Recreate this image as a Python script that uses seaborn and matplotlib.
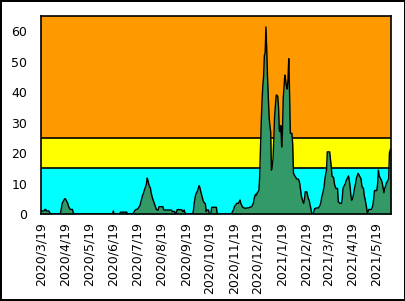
import numpy as np
import pandas as pd
import matplotlib
matplotlib.use("Agg")
import matplotlib.pyplot as plt
import seaborn as sns

start_date = "2020-03-19"

values = (
    [1, 1, 1, 1, 1, 1.5, 1.5, 1, 1, 1, 1, 0.5]
    + [0] * 13
    + [0.5, 2, 3.5, 4, 4.5, 5, 5, 4.5, 4, 3.5, 2.5, 2, 1.5, 1.5, 1.5, 1.5, 0.5]
    + [0] * 50 + [1] + [0] * 8 + [0.6] * 9 + [0] * 8
    + [0.5, 1, 1.3, 1.5, 1.5, 1.7, 2, 2.5, 2.8, 4, 5, 6, 6.6, 7.5, 8.2, 9, 9.8,
       11.8, 11, 9.8, 9, 8.7, 7, 6, 5, 4.3, 3.5, 2.8, 2, 1.4, 1.3, 1.3, 2.4]
    + [2.4, 2.4, 2.4, 2.4, 2.4, 1.4, 1.3, 1.3]
    + [1.3] * 8 + [0.8] * 4 + [0, 0]
    + [1.4, 1.4, 1.5, 1.4, 1.4, 1.4, 1.4, 0.8, 0.8, 1.3, 0.5]
    + [0] * 10
    + [1.5, 3.9, 5.5, 6.6, 7, 7.6, 8.5, 9.3, 8.7, 7.5, 6.5, 5.6, 4.5, 3.9, 3.6,
       3.4, 0.8, 1.3, 1.3, 1.3, 0, 0, 0]
    + [2.2] * 7 + [0] * 19
    + [0.5, 1, 1.5, 2.4, 2.8, 3.2, 3.5, 3.5, 3.5, 4, 4.6, 3.5, 3, 2.4, 2.2, 2,
       1.9, 1.9, 1.9, 2, 2, 2, 2.2, 2.2, 2.4, 2.4, 3, 3.5, 5, 6, 6.5, 6.2, 7,
       7.3, 7.7]
    + [12, 21, 30, 37, 42, 45, 52, 53, 61.4, 54, 45, 38.5, 32, 29, 27, 14.4, 16,
       18, 25, 32, 35.5, 39, 39, 38.6, 35, 27.5, 27, 29, 22, 27, 38, 42, 45.6,
       44, 42, 41, 44, 51, 40, 26.5, 26.5, 26.5, 23, 13.4, 12.8, 12.4, 12, 11.5,
       11.5, 11.5, 11, 10, 8, 6, 5, 4, 3.5, 5, 7.3, 7.3, 7.3, 6, 5, 4.5, 3, 2,
       0.5, 0, 0, 1, 1.8, 1.8, 2, 2, 2, 2, 2.5, 3, 4, 5.7, 6.5, 7.7, 9, 11.7,
       13, 14.4, 20.4, 20.4, 20.4, 20.4, 18, 15.7, 12.4, 12.2, 12, 10, 9, 8.4,
       8.4, 8.4, 4, 3.8, 3.5, 3.5, 3.5, 5, 8.4, 9, 9.5, 10, 11, 11.5, 12, 12.5,
       11, 9, 6, 4.5, 5, 6, 7.5, 9, 10, 11.7, 12.5, 13.3, 13, 12.4, 12, 11.5, 9,
       8.7, 8.4, 6, 5, 3.5, 2, 0, 1, 1.5, 1.5, 1.5, 1.5, 2, 3, 5, 7.7, 7.7, 7.7,
       7.7, 10, 14.4, 12.5, 12, 11.5, 11, 10, 8.5, 7, 8.5, 9, 10, 10.5, 11, 11.5,
       20, 21, 21.6]
)

band_edges = [0, 15, 25, 65]
band_colors = ["#00FFFF", "#FFFF00", "#FF9900"]
y_ticks = [0, 10, 20, 30, 40, 50, 60]
tick_dates = pd.date_range("2020-03-01", "2021-05-01", freq="MS") + pd.Timedelta(days=18)
tick_labels = [f"{d.year}/{d.month}/{d.day}" for d in tick_dates]

dates = pd.date_range(start_date, periods=len(values), freq="D")
df = pd.DataFrame({"date": dates, "value": values})

sns.set_style("white")
plt.rcParams["font.family"] = ["DejaVu Sans"]

fig = plt.figure(figsize=(4.06, 3.01), dpi=100, linewidth=1.5, edgecolor="black")
ax = fig.add_axes([41 / 406, 87 / 301, 350 / 406, 198 / 301])

for lo, hi, c in zip(band_edges[:-1], band_edges[1:], band_colors):
    ax.axhspan(lo, hi, color=c, zorder=0, lw=0)
for e in band_edges[1:-1]:
    ax.axhline(e, color="black", lw=1.2, zorder=1)

ax.fill_between(df["date"], 0, df["value"], color="#339966", lw=0, zorder=2)
sns.lineplot(data=df, x="date", y="value", ax=ax, color="black", lw=1.0, zorder=3)

ax.set_xlim(dates[0], dates[-1])
ax.set_ylim(0, 65)
ax.set_yticks(y_ticks)
ax.set_yticklabels([str(t) for t in y_ticks], fontsize=9)
ax.set_xticks(tick_dates)
ax.set_xticklabels(tick_labels, rotation=90, fontsize=9)
ax.set_xlabel("")
ax.set_ylabel("")
ax.tick_params(direction="in", length=3, width=1, color="black", labelcolor="black")
ax.tick_params(axis="x", pad=6)
ax.tick_params(axis="y", pad=10)
for s in ax.spines.values():
    s.set_color("black")
    s.set_linewidth(1.2)
    s.set_visible(True)
    s.set_zorder(5)

fig.savefig("out.png", dpi=100, edgecolor=fig.get_edgecolor())
